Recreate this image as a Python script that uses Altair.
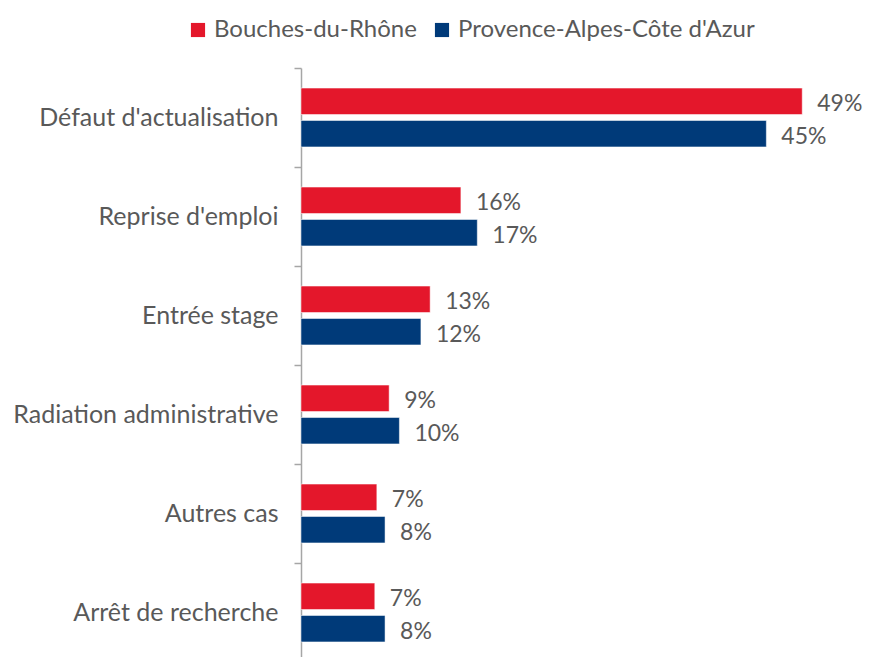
import altair as alt
import pandas as pd

categories = ["Défaut d'actualisation", "Reprise d'emploi", "Entrée stage",
              "Radiation administrative", "Autres cas", "Arrêt de recherche"]
series = ["Bouches-du-Rhône", "Provence-Alpes-Côte d'Azur"]
bdr_values = [48.9, 15.6, 12.6, 8.6, 7.4, 7.2]
paca_values = [45.4, 17.2, 11.7, 9.6, 8.2, 8.2]
colors = ["#E4172B", "#003A79"]

rows = []
for i, c in enumerate(categories):
    rows.append({"cat": c, "serie": series[0], "value": bdr_values[i],
                 "label": f"{int(bdr_values[i] + 0.5)}%"})
    rows.append({"cat": c, "serie": series[1], "value": paca_values[i],
                 "label": f"{int(paca_values[i] + 0.5)}%"})
df = pd.DataFrame(rows)

FONT = "Lato"
GREY = "#595959"

y_enc = alt.Y("cat:N", sort=categories, title=None,
              scale=alt.Scale(paddingInner=0, paddingOuter=0),
              axis=alt.Axis(tickBand="extent", labelFontSize=25, labelFont=FONT,
                            labelColor=GREY, labelPadding=16, labelLimit=400,
                            domainColor="#A6A6A6", domainWidth=1.5,
                            tickColor="#A6A6A6", tickWidth=1.5, tickSize=7))
yoff = alt.YOffset("serie:N", sort=series,
                   scale=alt.Scale(paddingInner=0.185, paddingOuter=0.62))
x_enc = alt.X("value:Q", scale=alt.Scale(domain=[0, 50], nice=False), axis=None)

bars = alt.Chart(df).mark_bar(stroke="white", strokeWidth=0.5).encode(
    y=y_enc, yOffset=yoff, x=x_enc,
    color=alt.Color("serie:N", sort=series,
                    scale=alt.Scale(domain=series, range=colors),
                    legend=alt.Legend(title=None, orient="none", direction="horizontal",
                                      legendX=-115, legendY=-50, symbolType="square",
                                      symbolSize=200, symbolStrokeWidth=0,
                                      labelFontSize=24, labelFont=FONT, labelColor=GREY,
                                      labelLimit=500,
                                      columnPadding=13, labelOffset=4, padding=0)),
)

labels = alt.Chart(df).mark_text(align="left", baseline="middle", dx=15, dy=3,
                                 fontSize=23, font=FONT, color=GREY).encode(
    y=y_enc, yOffset=yoff, x=x_enc, text="label:N")

chart = (bars + labels).properties(
    width=512.5, height=594,
    autosize=alt.AutoSizeParams(type="none"),
    padding={"left": 293, "top": 60, "right": 50, "bottom": 0},
).configure(background="white").configure_view(strokeWidth=0)

chart.save("out.html", embed_options={"renderer": "svg", "actions": False})
